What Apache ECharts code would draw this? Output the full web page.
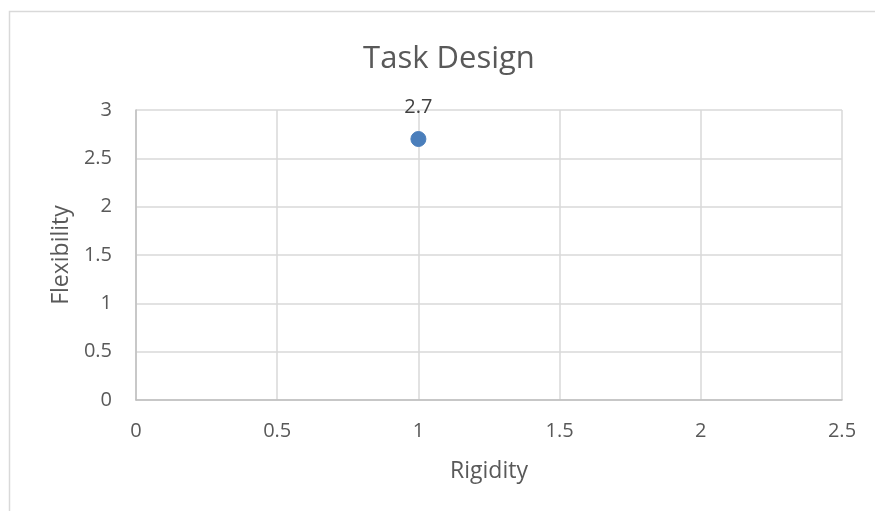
<!DOCTYPE html>
<html>
<head>
<meta charset="utf-8">
<script src="https://cdn.jsdelivr.net/npm/echarts@6/dist/echarts.min.js"></script>
<style>
  html, body { margin: 0; padding: 0; background: #fff; }
  #chart { width: 875px; height: 511px; }
</style>
</head>
<body>
<div id="chart"></div>
<script>
// Task Design: one rigidity / flexibility score
const chartTitle = 'Task Design';
const xName = 'Rigidity';
const yName = 'Flexibility';
const rigidity = [1];
const flexibility = [2.7];

const points = rigidity.map((x, i) => [x, flexibility[i]]);
const font = '"Open Sans", "Noto Sans", sans-serif';

const chart = echarts.init(document.getElementById('chart'), null, { renderer: 'canvas' });
chart.setOption({
  backgroundColor: '#fff',
  animation: false,
  title: {
    text: chartTitle,
    left: 444,
    top: 39,
    textAlign: 'center',
    textStyle: { fontFamily: font, fontSize: 31, fontWeight: 'normal', color: '#595959' }
  },
  graphic: [{
    type: 'rect',
    shape: { x: 9.5, y: 11.5, width: 900, height: 600 },
    style: { fill: 'none', stroke: '#d9d9d9', lineWidth: 1.5 },
    silent: true
  }],
  grid: { left: 136, right: 33, top: 110, bottom: 111 },
  xAxis: {
    type: 'value',
    min: 0, max: 2.5, interval: 0.5,
    name: xName,
    nameLocation: 'middle',
    nameGap: 60,
    nameTextStyle: { fontFamily: font, fontSize: 23, color: '#595959' },
    axisLine: { show: true, lineStyle: { color: '#bfbfbf', width: 1.5 } },
    axisTick: { show: false },
    splitLine: { show: true, lineStyle: { color: '#d9d9d9', width: 1.5 } },
    axisLabel: { fontFamily: font, fontSize: 20, color: '#595959', margin: 21 }
  },
  yAxis: {
    type: 'value',
    min: 0, max: 3, interval: 0.5,
    name: yName,
    nameLocation: 'middle',
    nameGap: 61,
    nameRotate: 90,
    nameTextStyle: { fontFamily: font, fontSize: 23, color: '#595959' },
    axisLine: { show: true, lineStyle: { color: '#bfbfbf', width: 1.5 } },
    axisTick: { show: false },
    splitLine: { show: true, lineStyle: { color: '#d9d9d9', width: 1.5 } },
    axisLabel: { fontFamily: font, fontSize: 20, color: '#595959', margin: 24 }
  },
  series: [{
    type: 'scatter',
    data: points,
    symbol: 'circle',
    symbolSize: 15,
    itemStyle: { color: '#4a7ebb', borderColor: '#4a7ebb', opacity: 1 },
    label: {
      show: true,
      position: 'top',
      distance: 14,
      formatter: p => String(p.value[1]),
      fontFamily: font,
      fontSize: 20,
      color: '#404040'
    }
  }]
});
</script>
</body>
</html>
